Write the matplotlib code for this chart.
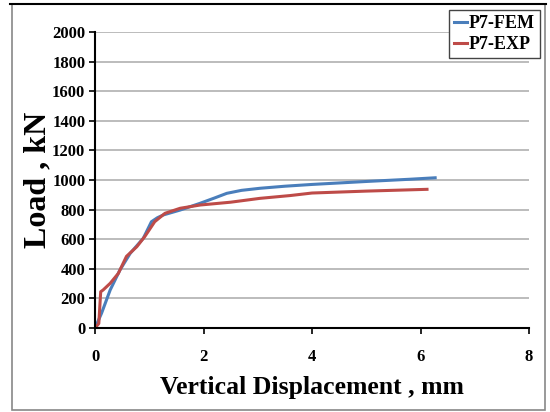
import matplotlib.pyplot as plt
from matplotlib.patches import Rectangle

# load-displacement readings
fem_disp = [0, 0.12, 0.28, 0.46, 0.65, 0.89, 1.04, 1.15, 1.26, 1.57, 1.94, 2.2, 2.43, 2.7, 3.04, 3.5, 4.0, 5.0, 5.8, 6.27]
fem_load = [0, 99, 257, 392, 505, 606, 718, 745, 764, 797, 843, 878, 910, 930, 944, 958, 970, 990, 1005, 1015]
exp_disp = [0, 0.07, 0.105, 0.15, 0.28, 0.43, 0.58, 0.77, 0.92, 1.1, 1.29, 1.57, 1.94, 2.5, 3.04, 3.6, 4.0, 5.0, 6.12]
exp_load = [0, 30, 245, 257, 302, 369, 484, 549, 619, 718, 775, 809, 831, 850, 876, 895, 912, 925, 937]

x_ticks = [0, 2, 4, 6, 8]
y_ticks = list(range(0, 2001, 200))

plt.rcParams['font.family'] = ['Liberation Serif', 'DejaVu Serif']
plt.rcParams['font.weight'] = 'bold'

fig = plt.figure(figsize=(5.5, 4.12), dpi=100)
ax = fig.add_axes([95 / 550, 1 - 328 / 412, (529 - 95) / 550, (328 - 32) / 412])

# outer frame
fig.patches.append(Rectangle((12 / 550, 2 / 412), 533 / 550, 406 / 412, transform=fig.transFigure,
                             fill=False, edgecolor='#888888', lw=1.2))
fig.add_artist(plt.Line2D([10 / 550, 546 / 550], [408 / 412, 408 / 412], color='black', lw=1.5,
                          transform=fig.transFigure))

ax.plot(fem_disp, fem_load, color='#4a7ebb', lw=2.2, label='P7-FEM')
ax.plot(exp_disp, exp_load, color='#be4b48', lw=2.2, label='P7-EXP')

ax.set_xlim(0, 8)
ax.set_ylim(0, 2000)
ax.set_xticks(x_ticks)
ax.set_yticks(y_ticks)
ax.tick_params(labelsize=12, length=4, width=1.2, direction='out')
for lab in ax.get_xticklabels() + ax.get_yticklabels():
    lab.set_fontweight('bold')
ax.tick_params(axis='x', pad=11)
ax.tick_params(axis='y', pad=3)
ax.yaxis.grid(True, color='#b0b0b0', lw=1.2)
ax.set_axisbelow(True)
for s in ['top', 'right']:
    ax.spines[s].set_visible(False)
for s in ['left', 'bottom']:
    ax.spines[s].set_linewidth(1.5)

ax.set_xlabel('Vertical Displacement , mm', fontsize=18.5, fontweight='bold', labelpad=8)
ax.set_ylabel('Load , kN', fontsize=23, fontweight='bold', labelpad=0)

leg = fig.legend(loc='upper right', bbox_to_anchor=(549 / 550, 1 - 1 / 412), fontsize=13,
                 handlelength=0.7, handletextpad=0.1, borderpad=0.3, labelspacing=0.2,
                 fancybox=False, framealpha=1, edgecolor='#444444')
leg.get_frame().set_linewidth(1.0)
for t in leg.get_texts():
    t.set_fontweight('bold')

fig.savefig('out.png', dpi=100)
